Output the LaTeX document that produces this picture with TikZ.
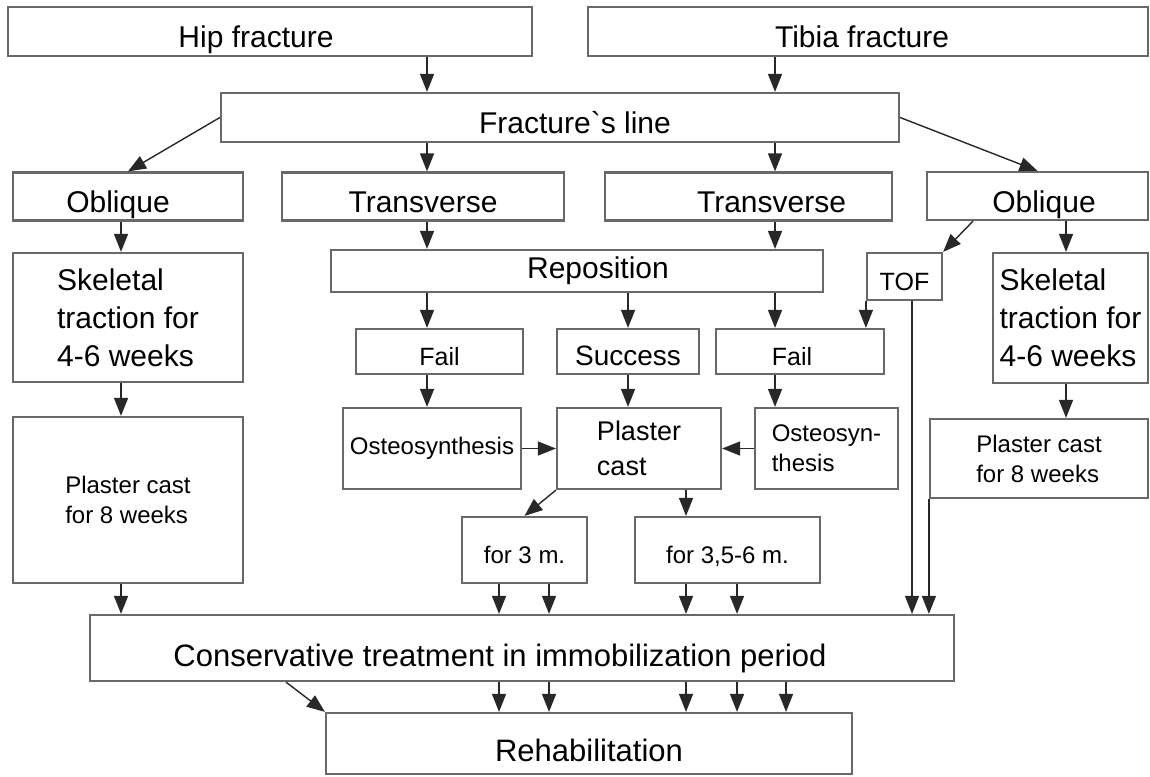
\documentclass[tikz,border=0pt]{standalone}
\usepackage{fontspec}
\setmainfont{Liberation Sans}
\usetikzlibrary{arrows.meta}
\definecolor{boxgray}{RGB}{105,105,105}
\definecolor{arrgray}{RGB}{40,40,40}
\tikzset{
  box/.style={draw=boxgray, line width=2.2pt, inner sep=0pt,
    font=\fontsize{30}{38}\selectfont},
  one/.style={text height=32pt, text depth=0pt},
  onesm/.style={text height=27.5pt, text depth=0pt},
  small/.style={font=\fontsize{24}{30}\selectfont},
  arr/.style={draw=arrgray, line width=1.4pt, -{Triangle[length=18pt,width=14pt]}},
}
\begin{document}
\begin{tikzpicture}[x=1pt,y=-1pt]
        \useasboundingbox (0,0) rectangle (1150,776);
        % first row
        \node[box, one, minimum width=524, minimum height=49] (hip) at (270,31.5) {Hip fracture\hspace*{28pt}};
        \node[box, one, minimum width=560, minimum height=49] (tibia) at (868,31.5) {Tibia fracture\hspace*{12pt}};
        \node[box, one, minimum width=678, minimum height=49] (fline) at (560,117.5) {\hspace*{30pt}Fracture\textasciigrave s line};
        % kinds of line
        \node[box, one, minimum width=230, minimum height=48] (oblL) at (128,196.5) {Oblique\hspace*{20pt}};
        \node[box, one, minimum width=282, minimum height=48] (trL) at (423,196.5) {Transverse};
        \node[box, one, minimum width=287, minimum height=48] (trR) at (748.5,196.5) {\hspace*{46pt}Transverse};
        \node[box, one, minimum width=221, minimum height=48] (oblR) at (1037.5,196) {\hspace*{13pt}Oblique};
        % middle
        \node[box, align=left, minimum width=230, minimum height=129] (skL) at (128,317.5) {Skeletal\\traction for\\4-6 weeks};
        \node[box, minimum width=492, minimum height=42] (repo) at (577,271) {\hspace*{42pt}Reposition};
        \node[box, onesm, font=\fontsize{25}{30}\selectfont, minimum width=75, minimum height=47] (tof) at (904.5,276.5) {TOF};
        \node[box, align=left, minimum width=155, minimum height=130] (skR) at (1070.5,318) {Skeletal\\traction for\\4-6 weeks};
        \node[box, onesm, font=\fontsize{25}{30}\selectfont, minimum width=167, minimum height=45] (failL) at (439.5,351.5) {Fail};
        \node[box, onesm, font=\fontsize{28}{30}\selectfont, minimum width=142, minimum height=45] (succ) at (628,351.5) {Success};
        \node[box, onesm, font=\fontsize{25}{30}\selectfont, minimum width=168, minimum height=45] (failR) at (800,351.5) {Fail\hspace*{16pt}};
        \node[box, small, minimum width=178, minimum height=81] (ostL) at (432,448.5) {Osteosynthesis};
        \node[box, align=left, font=\fontsize{27}{35}\selectfont, minimum width=164, minimum height=81] (plaster) at (639,448.5) {Plaster\\cast};
        \node[box, small, align=left, minimum width=143, minimum height=81] (ostR) at (826.5,448.5) {Osteosyn-\\thesis};
        \node[box, small, align=left, minimum width=218, minimum height=79] (plR) at (1039,458.5) {Plaster cast\\for 8 weeks};
        \node[box, small, align=left, minimum width=230, minimum height=166] (plL) at (128,500) {Plaster cast\\for 8 weeks};
        \node[box, small, onesm, minimum width=125, minimum height=66] (mthree) at (524.5,550) {for 3 m.};
        \node[box, small, onesm, minimum width=185, minimum height=66] (msix) at (727.5,550) {for 3,5-6 m.};
        % bottom
        \node[box, text height=36pt, text depth=0pt, font=\fontsize{31}{38}\selectfont, minimum width=864, minimum height=66] (cons) at (522,648) {Conservative treatment in immobilization period\hspace*{44pt}};
        \node[box, text height=36pt, text depth=0pt, font=\fontsize{31}{38}\selectfont, minimum width=526, minimum height=61] (rehab) at (589,743.5) {Rehabilitation};

        % columns for the arrows
        \coordinate (colL) at (121,0);
        \coordinate (colH) at (427,0);
        \coordinate (colS) at (628,0);
        \coordinate (colT) at (775,0);
        \coordinate (colR) at (1066,0);
        \coordinate (colO) at (973,0);
        \coordinate (colF) at (912,0);
        \coordinate (colP) at (686,0);
        \coordinate (colC) at (286,0);
        \coordinate (ca) at (499,0);
        \coordinate (cb) at (549,0);
        \coordinate (cc) at (686,0);
        \coordinate (cd) at (737,0);
        \coordinate (ce) at (786,0);

        \draw[arr] (hip.south -| colH) -- (fline.north -| colH);
        \draw[arr] (tibia.south -| colT) -- (fline.north -| colT);
        \draw[arr] (fline.west) -- (oblL.north);
        \draw[arr] (fline.east) -- (oblR.north);
        \draw[arr] (fline.south -| colH) -- (trL.north -| colH);
        \draw[arr] (fline.south -| colT) -- (trR.north -| colT);
        \draw[arr] (oblL.south -| colL) -- (skL.north -| colL);
        \draw[arr] (skL.south -| colL) -- (plL.north -| colL);
        \draw[arr] (plL.south -| colL) -- (cons.north -| colL);
        \draw[arr] (trL.south -| colH) -- (repo.north -| colH);
        \draw[arr] (trR.south -| colT) -- (repo.north -| colT);
        \draw[arr] (oblR.south -| colO) -- (tof.north east);
        \draw[arr] (oblR.south -| colR) -- (skR.north -| colR);
        \draw[arr] (skR.south -| colR) -- (plR.north -| colR);
        \draw[arr] (repo.south -| colH) -- (failL.north -| colH);
        \draw[arr] (repo.south -| colS) -- (succ.north -| colS);
        \draw[arr] (repo.south -| colT) -- (failR.north -| colT);
        \draw[arr] (tof.south west) -- (tof.south west |- failR.north);
        \draw[arr] (failL.south -| colH) -- (ostL.north -| colH);
        \draw[arr] (succ.south -| colS) -- (plaster.north -| colS);
        \draw[arr] (failR.south -| colT) -- (ostR.north -| colT);
        \draw[arr] (ostL.east) -- (ostL.east -| plaster.west);
        \draw[arr] (ostR.west) -- (ostR.west -| plaster.east);
        \draw[arr] (plaster.south west) -- (mthree.north);
        \draw[arr] (plaster.south -| colP) -- (msix.north -| colP);
        \draw[arr] (tof.south -| colF) -- (cons.north -| colF);
        \draw[arr] (plR.south west) -- (plR.south west |- cons.north);
        \draw[arr] (mthree.south -| ca) -- (cons.north -| ca);
        \draw[arr] (mthree.south -| cb) -- (cons.north -| cb);
        \draw[arr] (msix.south -| cc) -- (cons.north -| cc);
        \draw[arr] (msix.south -| cd) -- (cons.north -| cd);
        \draw[arr] (cons.south -| colC) -- (rehab.north west);
        \foreach \c in {ca,cb,cc,cd,ce}
          \draw[arr] (cons.south -| \c) -- (rehab.north -| \c);
\end{tikzpicture}
\end{document}
